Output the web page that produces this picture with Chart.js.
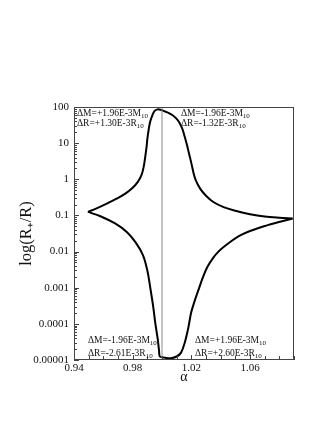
<!DOCTYPE html>
<html>
<head>
<meta charset="utf-8">
<script src="https://cdn.jsdelivr.net/npm/chart.js@4.4.1/dist/chart.umd.min.js"></script>
<style>
  html, body { margin: 0; padding: 0; background: #fff; }
  #wrap { width: 332px; height: 430px; position: relative; }
</style>
</head>
<body>
<div id="wrap"><canvas id="c"></canvas></div>
<script>
// upper branch: left cusp -> top -> right cusp
const upperAlpha = [0.9495, 0.955, 0.962, 0.969, 0.975, 0.980, 0.9835, 0.986, 0.9875, 0.9885, 0.9895, 0.990, 0.991, 0.992, 0.9935, 0.995, 0.997, 0.999, 1.001, 1.004, 1.007, 1.010, 1.012, 1.014, 1.0155, 1.017, 1.0185, 1.020, 1.0215, 1.023, 1.026, 1.030, 1.035, 1.042, 1.050, 1.060, 1.070, 1.080, 1.089];
const upperR = [0.125, 0.155, 0.21, 0.29, 0.40, 0.58, 0.85, 1.3, 2.2, 4, 8, 13, 25, 40, 60, 78, 86, 84, 78, 70, 60, 47, 36, 24, 15, 9, 5, 2.8, 1.5, 0.95, 0.55, 0.35, 0.235, 0.17, 0.135, 0.108, 0.093, 0.086, 0.082];

// lower branch: left cusp -> bottom -> right cusp
const lowerAlpha = [0.9495, 0.958, 0.968, 0.976, 0.982, 0.987, 0.990, 0.992, 0.994, 0.9955, 0.997, 0.998, 0.9985, 1.001, 1.006, 1.010, 1.013, 1.0155, 1.018, 1.0198, 1.022, 1.025, 1.028, 1.031, 1.035, 1.038, 1.042, 1.054, 1.072, 1.089];
const lowerR = [0.125, 0.095, 0.06, 0.035, 0.018, 0.008, 0.003, 0.001, 0.0003, 0.0001, 0.00004, 0.000018, 0.0000125, 0.0000118, 0.0000112, 0.0000125, 0.000016, 0.00003, 0.00008, 0.0002, 0.0004, 0.0009, 0.002, 0.0038, 0.0068, 0.0095, 0.0134, 0.029, 0.054, 0.082];

const refAlpha = [1.0, 1.0];
const refR = [0.00001, 100];

const xTickValues = [0.94, 0.98, 1.02, 1.06];
const xTickLabels = ["0.94", "0.98", "1.02", "1.06"];
const yTickValues = [100, 10, 1, 0.1, 0.01, 0.001, 0.0001, 0.00001];
const yTickLabels = ["100", "10", "1", "0.1", "0.01", "0.001", "0.0001", "0.00001"];

const noteText = [
  ["ΔM=+1.96E-3M", "ΔR=+1.30E-3R"],
  ["ΔM=-1.96E-3M", "ΔR=-1.32E-3R"],
  ["ΔM=-1.96E-3M", "ΔR=-2.61E-3R"],
  ["ΔM=+1.96E-3M", "ΔR=+2.60E-3R"]
];
const noteSub = "10";

const serif = "'Liberation Serif', 'Times New Roman', serif";
const notePos = [[77, 113, 10], [181, 113, 10], [88, 340, 13], [195, 340, 13]];

const pts = (xs, ys) => xs.map((x, i) => ({ x: x, y: ys[i] }));

// box, inward ticks and the text notes
const decor = {
  id: "decor",
  afterDatasetsDraw(chart) {
    const { ctx, chartArea: a, scales } = chart;
    const xs = scales.x, ys = scales.y;
    ctx.save();
    ctx.strokeStyle = "#444";
    ctx.lineWidth = 1;
    ctx.strokeRect(a.left + 0.5, a.top + 0.5, a.right - a.left - 1, a.bottom - a.top - 1);

    ctx.beginPath();
    for (let i = 0; i <= 15; i++) {
      const v = 0.94 + i * 0.01;
      const px = Math.round(xs.getPixelForValue(v)) + 0.5;
      const len = (i % 4 === 0) ? 5 : 4;
      ctx.moveTo(px, a.bottom);
      ctx.lineTo(px, a.bottom - len);
    }
    for (let e = -5; e <= 2; e++) {
      for (let k = 1; k <= 9; k++) {
        const v = k * Math.pow(10, e);
        if (v > 100 || v < 0.00001) continue;
        const py = Math.round(ys.getPixelForValue(v)) + 0.5;
        const len = k === 1 ? 5 : 3;
        ctx.moveTo(a.left, py);
        ctx.lineTo(a.left + len, py);
      }
    }
    ctx.stroke();

    ctx.fillStyle = "#111";
    ctx.textBaseline = "middle";
    noteText.forEach((lines, i) => {
      const [x, y, gap] = notePos[i];
      lines.forEach((t, j) => {
        const yy = y + j * gap;
        ctx.font = "9.5px " + serif;
        ctx.fillText(t, x, yy);
        const w = ctx.measureText(t).width;
        ctx.font = "7px " + serif;
        ctx.fillText(noteSub, x + w, yy + 3);
      });
    });
    ctx.restore();
  }
};

new Chart(document.getElementById("c"), {
  type: "scatter",
  data: {
    datasets: [
      {
        data: pts(refAlpha, refR),
        showLine: true,
        borderColor: "#8a8a8a",
        borderWidth: 1,
        pointRadius: 0
      },
      {
        data: pts(upperAlpha, upperR),
        showLine: true,
        borderColor: "#000",
        borderWidth: 2,
        pointRadius: 0,
        tension: 0.35
      },
      {
        data: pts(lowerAlpha, lowerR),
        showLine: true,
        borderColor: "#000",
        borderWidth: 2,
        pointRadius: 0,
        tension: 0.35
      }
    ]
  },
  options: {
    responsive: true,
    maintainAspectRatio: false,
    animation: false,
    layout: { padding: { left: 0, top: 107, right: 38, bottom: 40 } },
    plugins: { legend: { display: false }, tooltip: { enabled: false } },
    scales: {
      x: {
        type: "linear",
        min: 0.94,
        max: 1.09,
        grid: { display: false, drawTicks: false },
        border: { display: false },
        afterBuildTicks: s => { s.ticks = xTickValues.map(v => ({ value: v })); },
        afterFit: s => { s.height = 30; },
        ticks: {
          padding: 2,
          color: "#111",
          maxRotation: 0,
          font: { family: serif, size: 11 },
          callback: (v, i) => xTickLabels[i]
        },
        title: {
          display: true,
          text: "α",
          color: "#111",
          font: { family: serif, size: 14 },
          padding: { top: 0, bottom: 4 }
        }
      },
      y: {
        type: "logarithmic",
        min: 0.00001,
        max: 100,
        grid: { display: false, drawTicks: false },
        border: { display: false },
        afterBuildTicks: s => { s.ticks = yTickValues.map(v => ({ value: v })); },
        afterFit: s => { s.width = 74; },
        ticks: {
          padding: 5,
          color: "#111",
          font: { family: serif, size: 11 },
          callback: (v, i) => yTickLabels[i]
        },
        title: {
          display: true,
          text: "log(R₊/R)",
          color: "#111",
          font: { family: serif, size: 16.5 },
          padding: { top: 17, bottom: 0 }
        }
      }
    }
  },
  plugins: [decor]
});
</script>
</body>
</html>
